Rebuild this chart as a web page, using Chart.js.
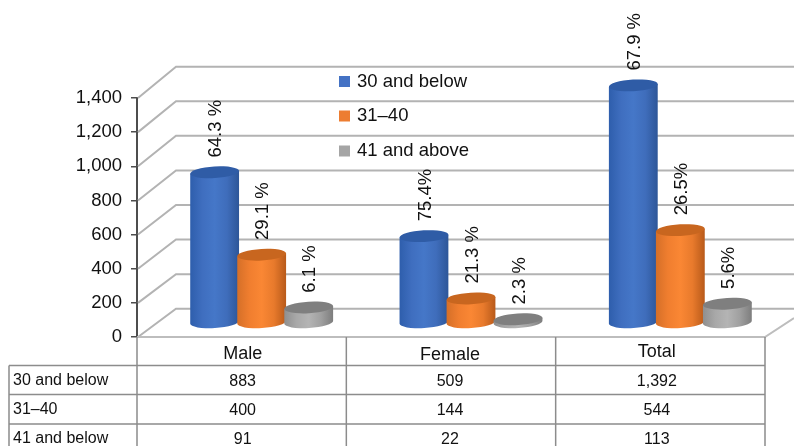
<!DOCTYPE html>
<html>
<head>
<meta charset="utf-8">
<style>
  html, body { margin: 0; padding: 0; background: #fff; }
  canvas { display: block; }
</style>
<script src="https://cdn.jsdelivr.net/npm/chart.js@4"></script>
</head>
<body>
<canvas id="chart" width="794" height="446"></canvas>
<script>
const categories = ['Male', 'Female', 'Total'];
const seriesNames = ['30 and below', '31–40', '41 and above'];
const tableRowNames = ['30 and below', '31–40', '41 and below'];
const youngest = [883, 509, 1392];
const middle = [400, 144, 544];
const oldest = [91, 22, 113];
const youngestShare = ['64.3 %', '75.4%', '67.9 %'];
const middleShare = ['29.1 %', '21.3 %', '26.5%'];
const oldestShare = ['6.1 %', '2.3 %', '5.6%'];
const yTicks = [0, 200, 400, 600, 800, 1000, 1200, 1400];

const FONT = '"Liberation Sans", Arial, sans-serif';
const DEPTH_X = 39;                       // back wall sits this far right of the axis
const BAR_SHIFT_X = 20, BAR_SHIFT_Y = 14; // bars stand mid-way across the floor
const TILT = -0.06, CAP_RY = 5.8;
const COLUMN_NUDGE = [1, -1, -3.5];       // table text is not quite centred in its column
const HEADER_Y = [354, 355, 352];

const palette = [
  { key: '#4472c4', cap: '#2f5ca6', side: ['#2e5eac', '#3f6ebf', '#4577c8', '#3f6dbb', '#2d5698'] },
  { key: '#ed7d31', cap: '#c8661f', side: ['#d56f28', '#f07e2f', '#fa8734', '#e87a2c', '#b85a1a'] },
  { key: '#a5a5a5', cap: '#7f7f7f', side: ['#8f8f8f', '#a8a8a8', '#b4b4b4', '#a0a0a0', '#7d7d7d'] }
];
const shares = [youngestShare, middleShare, oldestShare];
const rows = [youngest, middle, oldest];

// The back wall is slightly taller than the front edge, so its offset grows with the value.
function wallRise(value) {
  return 28.3 + 3 * value / 1400;
}

function drawCylinder(ctx, bar, colors) {
  const cx = bar.x + BAR_SHIFT_X;
  const rx = bar.width / 2;
  const top = bar.y - BAR_SHIFT_Y;
  const base = bar.base - BAR_SHIFT_Y;
  const dx = rx * Math.cos(TILT), dy = rx * Math.sin(TILT);

  const grad = ctx.createLinearGradient(cx - rx, 0, cx + rx, 0);
  colors.side.forEach((c, i) => grad.addColorStop(i / (colors.side.length - 1), c));

  ctx.beginPath();
  ctx.moveTo(cx - dx, top - dy);
  ctx.lineTo(cx - dx, base - dy);
  ctx.ellipse(cx, base, rx, CAP_RY, TILT, Math.PI, 0, true);
  ctx.lineTo(cx + dx, top + dy);
  ctx.closePath();
  ctx.fillStyle = grad;
  ctx.fill();

  ctx.beginPath();
  ctx.ellipse(cx, top, rx, CAP_RY, TILT, 0, Math.PI * 2);
  ctx.fillStyle = colors.cap;
  ctx.fill();
}

const frame3d = {
  id: 'frame3d',
  beforeDatasetsDraw(chart) {
    const { ctx, scales: { x, y } } = chart;
    ctx.save();
    ctx.strokeStyle = '#b3b3b3';
    ctx.lineWidth = 2;
    yTicks.forEach(v => {
      const py = y.getPixelForValue(v);
      ctx.beginPath();
      ctx.moveTo(x.left + 1, py);
      ctx.lineTo(x.left + DEPTH_X, py - wallRise(v));
      ctx.lineTo(chart.width, py - wallRise(v));
      ctx.stroke();
    });
    // floor edges
    const floor = y.getPixelForValue(0);
    ctx.strokeStyle = '#bdbdbd';
    ctx.beginPath();
    ctx.moveTo(x.left, floor);
    ctx.lineTo(x.right, floor);
    ctx.lineTo(chart.width, floor - 19);
    ctx.stroke();
    ctx.restore();
  },
  // Cylinders replace the flat bars; they are painted together afterwards,
  // left to right, so each one overlaps its left-hand neighbour.
  beforeDatasetDraw() {
    return false;
  },
  afterDatasetsDraw(chart) {
    const { ctx, scales: { x, y } } = chart;
    ctx.save();

    rows.forEach((values, d) => {
      chart.getDatasetMeta(d).data.forEach(bar => drawCylinder(ctx, bar, palette[d]));
    });

    // rotated share labels above each cylinder
    ctx.fillStyle = '#111';
    ctx.font = '18.5px ' + FONT;
    ctx.textAlign = 'left';
    ctx.textBaseline = 'middle';
    shares.forEach((labels, d) => {
      chart.getDatasetMeta(d).data.forEach((bar, i) => {
        ctx.save();
        ctx.translate(bar.x + BAR_SHIFT_X + 1.5, bar.y - BAR_SHIFT_Y - CAP_RY - 9);
        ctx.rotate(-Math.PI / 2);
        ctx.fillText(labels[i], 0, 0);
        ctx.restore();
      });
    });

    // legend inside the back wall
    const legendX = 339, legendY = [81.5, 116, 151];
    seriesNames.forEach((name, i) => {
      ctx.fillStyle = palette[i].key;
      ctx.fillRect(legendX, legendY[i] - 5.5, 11, 11);
      ctx.fillStyle = '#111';
      ctx.fillText(name, legendX + 18, legendY[i]);
    });

    // data table under the axis
    const rowLines = [365.5, 394.5, 424];
    const columnWidth = (x.right - x.left) / categories.length;
    const tableLeft = 9, bottom = chart.height;
    ctx.strokeStyle = '#8c8c8c';
    ctx.lineWidth = 1.5;
    ctx.beginPath();
    for (let c = 0; c <= categories.length; c++) {
      const cx = x.left + c * columnWidth;
      ctx.moveTo(cx, y.bottom);
      ctx.lineTo(cx, bottom);
    }
    ctx.moveTo(tableLeft, rowLines[0]);
    ctx.lineTo(tableLeft, bottom);
    rowLines.forEach(ry => {
      ctx.moveTo(tableLeft, ry);
      ctx.lineTo(x.right, ry);
    });
    ctx.stroke();

    ctx.fillStyle = '#111';
    ctx.textAlign = 'center';
    ctx.font = '18px ' + FONT;
    categories.forEach((name, i) => {
      ctx.fillText(name, x.getPixelForTick(i) + COLUMN_NUDGE[i], HEADER_Y[i]);
    });

    ctx.font = '16px ' + FONT;
    rows.forEach((values, r) => {
      const rowY = rowLines[r] + 16;
      ctx.textAlign = 'left';
      ctx.fillText(tableRowNames[r], 13, rowY - 1);
      ctx.textAlign = 'center';
      values.forEach((v, i) => {
        ctx.fillText(v.toLocaleString('en-US'), x.getPixelForTick(i) + COLUMN_NUDGE[i], rowY);
      });
    });
    ctx.restore();
  }
};

new Chart(document.getElementById('chart'), {
  type: 'bar',
  data: {
    labels: categories,
    datasets: rows.map((values, i) => ({
      label: seriesNames[i],
      data: values,
      backgroundColor: palette[i].key,
      categoryPercentage: 0.674,
      barPercentage: 1.04
    }))
  },
  options: {
    responsive: false,
    animation: false,
    layout: { padding: { top: 98, right: 29, bottom: 0, left: 0 } },
    plugins: { legend: { display: false }, tooltip: { enabled: false }, title: { display: false } },
    scales: {
      x: {
        afterFit(scale) { scale.height = 109; },
        grid: { display: false },
        border: { display: false },
        ticks: { display: false }
      },
      y: {
        min: 0,
        max: 1400,
        afterFit(scale) { scale.width = 137; },
        grid: { drawOnChartArea: false, drawTicks: true, tickLength: 6, color: '#4d4d4d', lineWidth: 1.5 },
        border: { display: true, color: '#4d4d4d', width: 2 },
        ticks: {
          stepSize: 200,
          color: '#111',
          font: { family: FONT, size: 18.5 },
          padding: 9,
          callback: v => v.toLocaleString('en-US')
        }
      }
    }
  },
  plugins: [frame3d]
});
</script>
</body>
</html>
